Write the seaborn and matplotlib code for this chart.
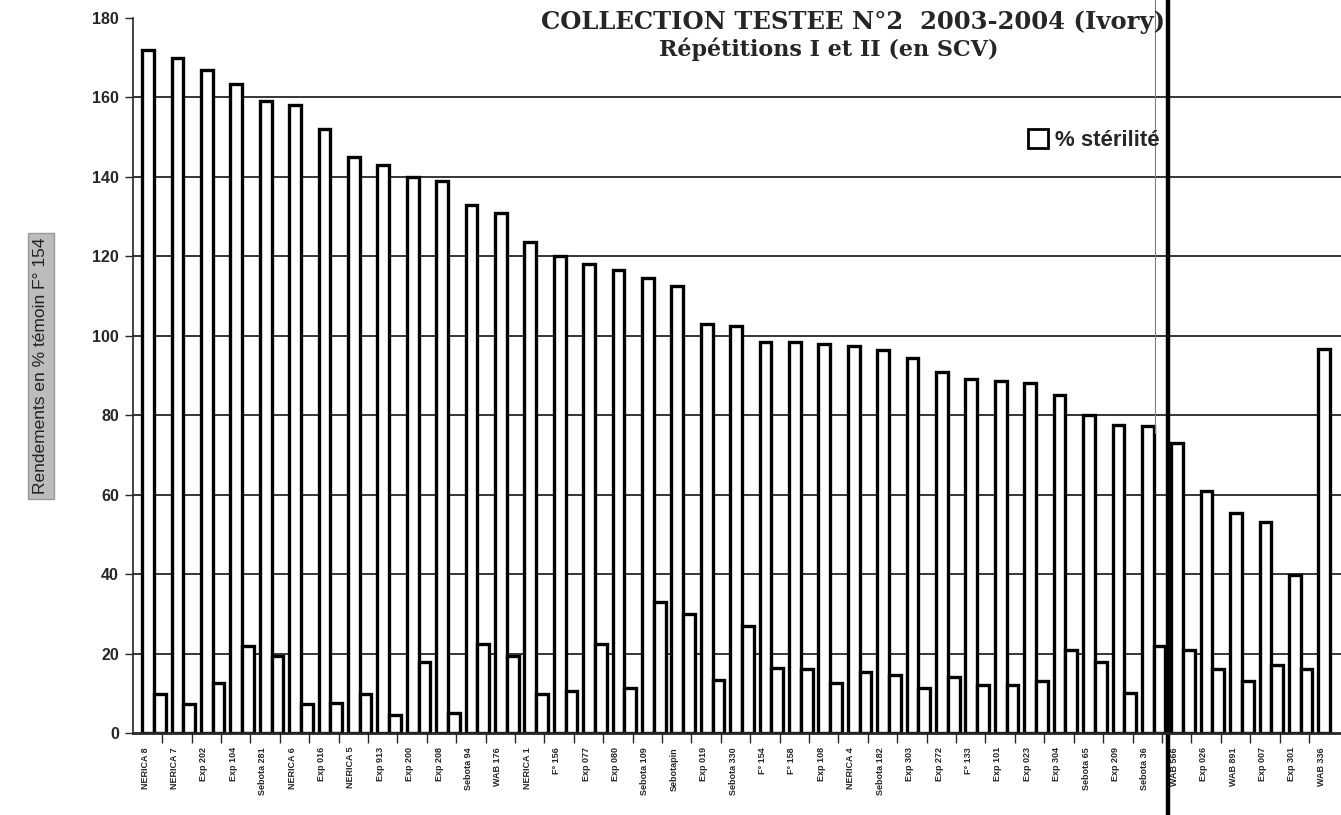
import numpy as np
import pandas as pd
import matplotlib
matplotlib.use("Agg")
import matplotlib.pyplot as plt
import seaborn as sns
from matplotlib.patches import Patch

# varietes (approximatif)
varietes = ["NERICA 8", "NERICA 7", "Exp 202", "Exp 104", "Sebota 281", "NERICA 6",
            "Exp 016", "NERICA 5", "Exp 913", "Exp 200", "Exp 208", "Sebota 94",
            "WAB 176", "NERICA 1", "F° 156", "Exp 077", "Exp 080", "Sebota 109",
            "Sebotapin", "Exp 019", "Sebota 330", "F° 154", "F° 158", "Exp 108",
            "NERICA 4", "Sebota 182", "Exp 303", "Exp 272", "F° 133", "Exp 101",
            "Exp 023", "Exp 304", "Sebota 65", "Exp 209", "Sebota 36", "WAB 566",
            "Exp 026", "WAB 891", "Exp 007", "Exp 301", "WAB 336"]

rendement = [172, 170, 167, 163.5, 159, 158, 152, 145, 143, 140, 139, 133, 131,
             123.5, 120, 118, 116.5, 114.5, 112.5, 103, 102.5, 98.5, 98.4, 98,
             97.5, 96.5, 94.5, 91, 89, 88.7, 88.2, 85, 80, 77.6, 77.4, 73,
             61, 55.4, 53, 39.8, 96.7]

sterilite = [9.7, 7.3, 12.6, 21.8, 19.3, 7.3, 7.6, 9.7, 4.6, 18, 5, 22.3, 19.3,
             9.8, 10.5, 22.4, 11.3, 33, 30, 13.4, 27, 16.4, 16, 12.6, 15.4, 14.7,
             11.3, 14, 12, 12, 13, 21, 18, 10, 22, 21, 16, 13, 17, 16, np.nan]

yticks = list(range(0, 181, 20))

df = pd.DataFrame({
    "variete": varietes * 2,
    "serie": ["Rendement"] * len(varietes) + ["% stérilité"] * len(varietes),
    "valeur": rendement + sterilite,
})

sns.set_style("white")
plt.rcParams["font.family"] = ["Liberation Sans", "DejaVu Sans"]

fig = plt.figure(figsize=(13.41, 8.15), dpi=100)
ax = fig.add_axes([133 / 1341, 1 - 733 / 815, 1 - 133 / 1341, (733 - 18) / 815])

sns.barplot(data=df, x="variete", y="valeur", hue="serie", order=varietes,
            hue_order=["Rendement", "% stérilité"],
            palette=["white", "white"], edgecolor="black", linewidth=2.4,
            width=0.8, ax=ax, legend=False)

ax.set_ylim(0, 180)
ax.set_xlim(-0.71, 40.37)
ax.set_yticks(yticks)
ax.set_yticklabels([str(t) for t in yticks], fontsize=11.5, fontweight="bold")
ax.tick_params(axis="y", length=6, width=1, direction="out", left=True, pad=4)

# grille horizontale
for t in yticks[1:-1]:
    ax.axhline(t, color="black", lw=1.1, zorder=0)

# etiquettes x
n = len(varietes)
ax.set_xticks(np.arange(n) - 0.3)
ax.set_xticklabels(varietes, rotation=90, fontsize=6.5, fontweight="bold")
ax.tick_params(axis="x", length=0, pad=10)
ax.set_xticks(np.arange(1, n) - 0.72, minor=True)
ax.tick_params(axis="x", which="minor", length=7, width=1, direction="out", bottom=True)

ax.set_xlabel("")
ax.set_ylabel("")
for s in ["top", "right"]:
    ax.spines[s].set_visible(False)
ax.spines["left"].set_linewidth(1.2)
ax.spines["bottom"].set_linewidth(2)

# traits verticaux (separation)
ax.axvline(34.49, ymin=-0.12, ymax=1.03, color="black", lw=3.2, clip_on=False)
ax.axvline(34.05, ymin=0.42, ymax=1.03, color="gray", lw=0.8, clip_on=False)

# titre
fig.text(0.636, 1 - 22 / 815, "COLLECTION TESTEE N°2  2003-2004 (Ivory)",
         ha="center", va="center", fontsize=17.5, fontweight="bold", family="DejaVu Serif")
fig.text(0.618, 1 - 49 / 815, "Répétitions I et II (en SCV)",
         ha="center", va="center", fontsize=16, fontweight="bold", family="DejaVu Serif")

# titre axe y dans un cadre gris
fig.text(41 / 1341, 1 - 366 / 815, "Rendements en % témoin F° 154", rotation=90,
         ha="center", va="center", fontsize=12.5, color="#222222",
         bbox=dict(boxstyle="square,pad=0.3", facecolor="#bcbcbc", edgecolor="#999999"))

# legende
ax.legend(handles=[Patch(facecolor="white", edgecolor="black", linewidth=2)],
          labels=["% stérilité"], loc="center left",
          bbox_to_anchor=(1008 / 1341, 1 - 140 / 815), bbox_transform=fig.transFigure,
          frameon=False, handlelength=0.9, handleheight=0.9, handletextpad=0.3,
          prop={"size": 16, "weight": "bold"})

fig.savefig("out.png", dpi=100)
